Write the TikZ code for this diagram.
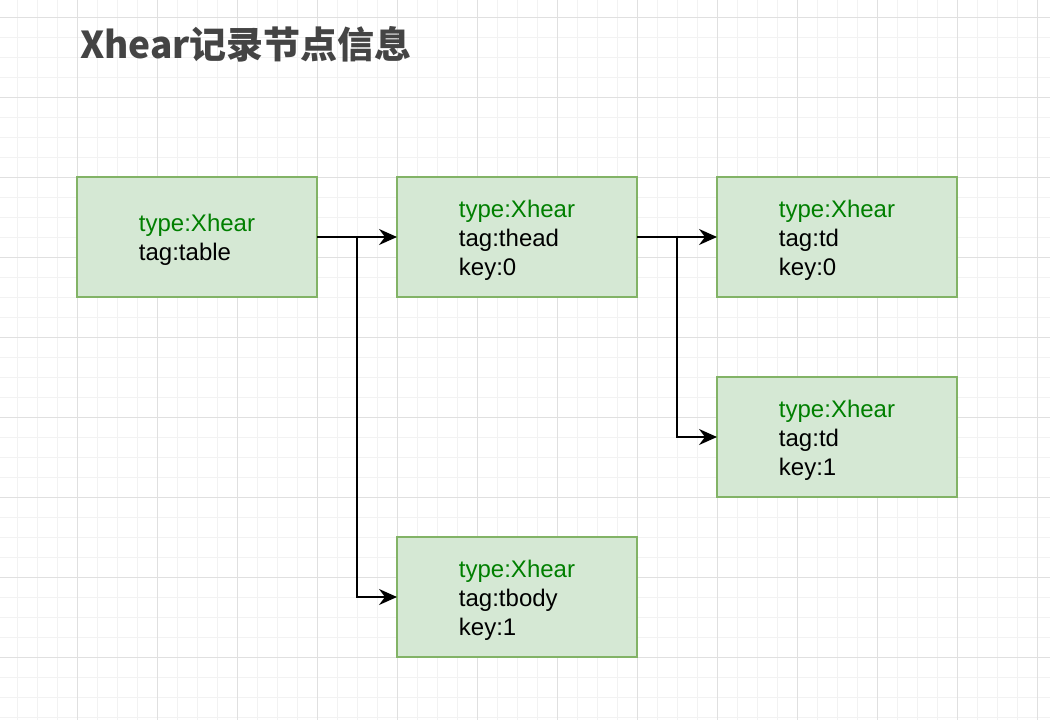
\documentclass[tikz,border=0pt]{standalone}
\usepackage{fontspec}
\setmainfont{Liberation Sans}
\newfontfamily\cjk{Noto Sans CJK SC}
\usetikzlibrary{positioning}
\usetikzlibrary{arrows.meta}
\definecolor{boxfill}{HTML}{D5E8D4}
\definecolor{boxline}{HTML}{82B366}
\definecolor{typegreen}{HTML}{007F00}
\definecolor{titlegray}{HTML}{444444}
\definecolor{minorgrid}{HTML}{F2F2F2}
\definecolor{majorgrid}{HTML}{E0E0E0}
\newcommand{\xtype}{\rule{0pt}{23.5pt}\textcolor{typegreen}{type:Xhear}}

\begin{document}
\begin{tikzpicture}[node distance=80pt,line width=2pt,
  xnode/.style={draw=boxline,fill=boxfill,minimum width=240pt,minimum height=120pt,
    inner sep=0pt,outer sep=0pt,align=left,font=\fontsize{24pt}{28.8pt}\selectfont},
  link/.style={-{Stealth[length=18pt,width=16pt,inset=6pt]}}]
  \useasboundingbox (0,0) rectangle (1050pt,-720pt);
  % background grid
  \foreach \x in {17,37,...,1037} \draw[minorgrid,line width=1pt] (\x pt,0) -- (\x pt,-720pt);
  \foreach \y in {17,37,...,717} \draw[minorgrid,line width=1pt] (0,-\y pt) -- (1050pt,-\y pt);
  \foreach \x in {77,157,...,1037} \draw[majorgrid,line width=1pt] (\x pt,0) -- (\x pt,-720pt);
  \foreach \y in {17,97,...,657} \draw[majorgrid,line width=1pt] (0,-\y pt) -- (1050pt,-\y pt);
  \node[anchor=base west,inner sep=0pt,text=titlegray,font=\cjk\bfseries\fontsize{37pt}{40pt}\selectfont] (title) at (79pt,-58pt) {Xhear记录节点信息};
  \node[xnode] (table) at (197pt,-237pt) {\xtype\\tag:table};
  \node[xnode,right=of table] (thead) {\xtype\\tag:thead\\key:0};
  \node[xnode,right=of thead] (tdzero) {\xtype\\tag:td\\key:0};
  \node[xnode,below=of tdzero] (tdone) {\xtype\\tag:td\\key:1};
  \node[xnode,below=240pt of thead] (tbody) {\xtype\\tag:tbody\\key:1};
  \draw[link] (table) -- (thead);
  \draw[link] (table.east) -- ++(40pt,0) |- (tbody.west);
  \draw[link] (thead) -- (tdzero);
  \draw[link] (thead.east) -- ++(40pt,0) |- (tdone.west);
\end{tikzpicture}
\end{document}
